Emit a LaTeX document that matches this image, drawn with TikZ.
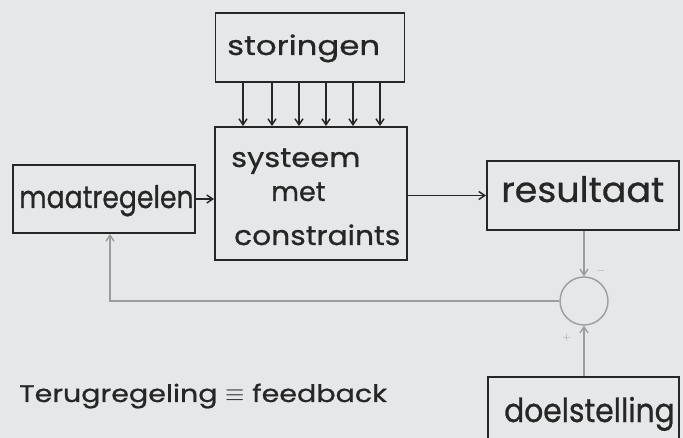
\documentclass[tikz,border=0pt]{standalone}
\usepackage{fontspec}
\setmainfont{Poppins}
\usetikzlibrary{arrows.meta,calc}
\definecolor{paper}{HTML}{E5E7E9}
\definecolor{ink}{HTML}{262626}
\definecolor{fb}{HTML}{9C9C9C}
\newcommand{\hw}[2]{\fontsize{#1}{#1}\selectfont\addfontfeatures{FakeStretch=#2,FakeBold=0.8}}
\begin{document}
\begin{tikzpicture}[x=1pt,y=-1pt,
  box/.style={draw=ink,line width=1.8pt,inner sep=0pt,minimum width=#1},
  lbl/.style={text=ink,inner sep=0pt,anchor=base west},
  arr/.style={draw=ink,line width=1.5pt,-{Straight Barb[length=6pt,width=8pt]}},
  fbarr/.style={draw=fb,line width=1.4pt,-{Straight Barb[length=6pt,width=8pt]}},
  fbline/.style={draw=fb,line width=1.4pt}]
\useasboundingbox (0,0) rectangle (683,438);
\fill[paper] (0,0) rectangle (683,438);
\clip (0,0) rectangle (683,438);
% boxes
\node[box=189pt,minimum height=69pt] (st) at (310,47.5) {};
\node[box=192pt,minimum height=133pt] (sy) at (311,193.5) {};
\node[box=182pt,minimum height=68pt] (ma) at (104,199) {};
\node[box=192pt,minimum height=69pt] (re) at (583,195.5) {};
\node[box=191pt,minimum height=68pt] (do) at (583.5,411) {};
\node[draw=fb,line width=1.4pt,circle,minimum size=48pt,inner sep=0pt] (ci) at (584,301) {};
% labels
\node[lbl,font=\hw{27}{1.2}] (tst) at (227,55) {storingen};
\node[lbl,font=\hw{27}{1.13}] (t1) at (231,167) {systeem};
\node[lbl,font=\hw{27}{1.0}] (t2) at (271,201) {met};
\node[lbl,font=\hw{27}{1.1}] (t3) at (234,245) {constraints};
\node[lbl,font=\hw{31}{0.86}] (tma) at (19,208) {maatregelen};
\node[lbl,font=\hw{35}{1.04}] (tre) at (501,202) {resultaat};
\node[lbl,font=\hw{33}{0.9}] (tdo) at (504,422) {doelstelling};
\node[lbl,font=\hw{24}{1.19}] (tfb) at (19,402) {Terugregeling $\equiv$ feedback};
\node[text=fb,font=\fontsize{11}{12}\selectfont,inner sep=0pt] (minus) at (601,271) {$-$};
\node[text=fb,font=\fontsize{11}{12}\selectfont,inner sep=0pt] (plus) at (567,338) {$+$};
% disturbance arrows
\foreach \i/\x in {1/243,2/272,3/299,4/326,5/353,6/380}{
  \coordinate (a\i) at (\x,0);
  \draw[arr] (st.south -| a\i) -- (sy.north -| a\i);
}
% main flow
\draw[arr] (ma.east) -- (ma.east -| sy.west);
\draw[arr] (re.west -| sy.east) -- (re.west);
% feedback
\draw[fbarr] (re.south -| ci.north) -- (ci.north);
\draw[fbarr] (do.north -| ci.south) -- (ci.south);
\coordinate (corner) at (110,301);
\draw[fbarr] (ci.west) -- (corner) -- (corner |- ma.south);
\end{tikzpicture}
\end{document}
